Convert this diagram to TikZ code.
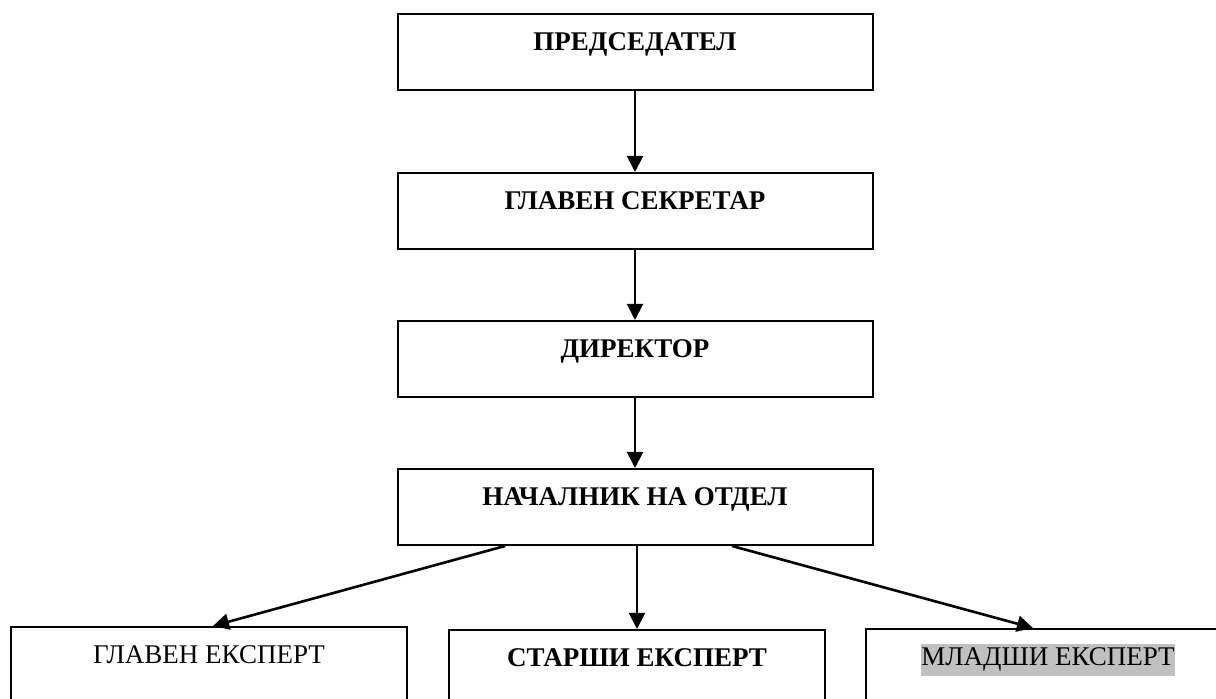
\documentclass[tikz,border=0pt]{standalone}
\usepackage{fontspec}
\setmainfont{Liberation Serif}
\usetikzlibrary{arrows.meta}
\definecolor{hlgray}{RGB}{192,192,192}

\begin{document}
\begin{tikzpicture}[x=0.5pt,y=-0.5pt,>={Triangle[length=8pt,width=8pt]},
  topbox/.style={draw,line width=1pt,anchor=north,inner sep=0pt,minimum width=237.5pt,
    text height=18.5pt,text depth=19.5pt,font=\fontsize{13.5}{16}\selectfont\bfseries},
  lowbox/.style={draw,line width=1pt,anchor=north,inner sep=0pt,
    text height=18.5pt,text depth=31.5pt,font=\fontsize{13.5}{16}\selectfont}]
\useasboundingbox (0,0) rectangle (1216,699);
\node[topbox] at (635,13) (chair) {ПРЕДСЕДАТЕЛ};
\node[topbox] at (635,172) (secr) {ГЛАВЕН СЕКРЕТАР};
\node[topbox] at (635,320) (dir) {ДИРЕКТОР};
\node[topbox] at (635,468) (head) {НАЧАЛНИК НА ОТДЕЛ};
\node[lowbox,minimum width=198pt] at (209,626) (chief) {ГЛАВЕН ЕКСПЕРТ};
\node[lowbox,minimum width=188pt] at (637,629) (senior) {\bfseries СТАРШИ ЕКСПЕРТ};
\node[lowbox,minimum width=182pt] at (1048,628) (junior) {\setlength{\fboxsep}{0pt}\colorbox{hlgray}{\strut МЛАДШИ ЕКСПЕРТ}};
\draw[->,line width=1pt](chair) to (secr);
\draw[->,line width=1pt](secr) to (dir);
\draw[->,line width=1pt](dir) to (head);
\draw[->,line width=1pt](head.south -| senior.north) to (senior.north);
\draw[->,line width=1.3pt]([xshift=-65pt]head.south) to ([xshift=2pt]chief.north);
\draw[->,line width=1.3pt]([xshift=48.5pt]head.south) to ([xshift=-7.5pt]junior.north);
%\draw[->,line width=1pt](head) to (junior);
\end{tikzpicture}
\end{document}
